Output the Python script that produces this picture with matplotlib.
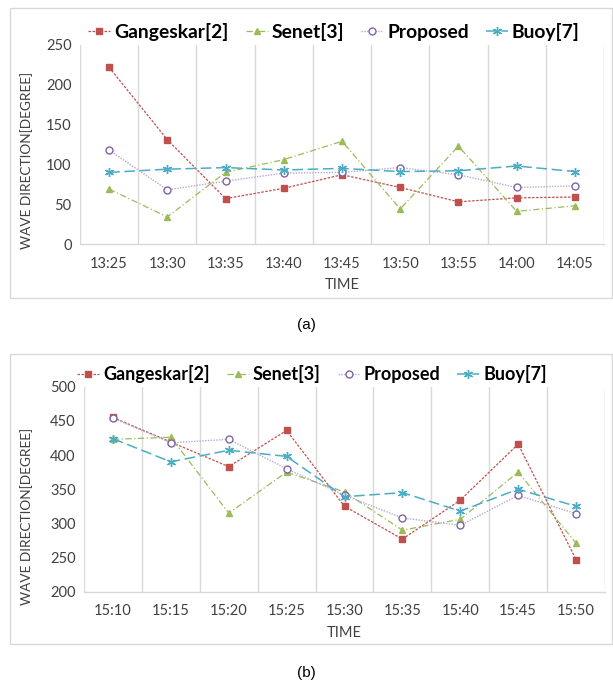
import matplotlib
matplotlib.use("Agg")
import matplotlib.pyplot as plt
from matplotlib.patches import Rectangle

plt.rcParams['font.family'] = ['Lato', 'DejaVu Sans']

# ---- data ----
times_a = ["13:25", "13:30", "13:35", "13:40", "13:45", "13:50", "13:55", "14:00", "14:05"]
gangeskar_a = [222, 131, 57, 70, 87, 71, 53, 58, 59]
senet_a = [69, 34, 90, 106, 129, 44, 123, 41, 48]
proposed_a = [118, 68, 79, 89, 90, 96, 87, 71, 73]
buoy_a = [90, 94, 96, 93, 95, 91, 92, 98, 91]

times_b = ["15:10", "15:15", "15:20", "15:25", "15:30", "15:35", "15:40", "15:45", "15:50"]
gangeskar_b = [455, 419, 383, 436, 325, 277, 334, 416, 247]
senet_b = [423, 426, 315, 375, 346, 290, 306, 375, 271]
proposed_b = [454, 418, 423, 380, 341, 308, 297, 341, 314]
buoy_b = [424, 390, 407, 398, 339, 345, 318, 350, 325]

series_names = ["Gangeskar[2]", "Senet[3]", "Proposed", "Buoy[7]"]

W, H = 613, 686
fig = plt.figure(figsize=(W / 100, H / 100), dpi=100)
renderer = fig.canvas.get_renderer()

def fx(x):
    return x / W

def fy(y):
    return 1 - y / H

def fit_size(text, target_px, weight='normal', base=10.0):
    t = fig.text(0, 0, text, fontsize=base, weight=weight)
    w = t.get_window_extent(renderer).width
    t.remove()
    return base * target_px / w

tick_fs = 10.5
ylab_fs = fit_size("WAVE DIRECTION[DEGREE]", 176)
leg_fs_a = fit_size("Gangeskar[2]", 114, weight='bold')
leg_fs_b = fit_size("Gangeskar[2]", 107, weight='bold')

# outer frames
for (x0, y0, x1, y1) in [(10, 8, 612, 298), (10, 354, 612, 644)]:
    fig.patches.append(Rectangle((fx(x0), fy(y1)), fx(x1 - x0), (y1 - y0) / H,
                                 transform=fig.transFigure, fill=False,
                                 edgecolor='#D9D9D9', linewidth=1.0))

styles = [
    dict(color='#C0504D', linestyle=(0, (2, 1.2)), marker='s', markersize=4.5,
         markerfacecolor='#C0504D', markeredgecolor='#C0504D', linewidth=0.9),
    dict(color='#9BBB59', linestyle=(0, (5, 2, 1, 2)), marker='^', markersize=5,
         markerfacecolor='#9BBB59', markeredgecolor='#9BBB59', linewidth=0.9),
    dict(color='#B8A9D0', linestyle=(0, (1, 1)), marker='o', markersize=5,
         markerfacecolor='white', markeredgecolor='#8064A2', markeredgewidth=1.0, linewidth=1.0),
    dict(color='#4BACC6', linestyle=(0, (7, 3)), marker=(6, 2, 0), markersize=6.5,
         markerfacecolor='#4BACC6', markeredgecolor='#4BACC6', markeredgewidth=1.0, linewidth=1.1),
]

def make_panel(rect, times, data, ylim, yticks, ylabel_y, legend_xy, legend_fs, label, label_y, time_y):
    ax = fig.add_axes(rect)
    x = list(range(len(times)))
    handles = []
    for d, st, name in zip(data, styles, series_names):
        h, = ax.plot(x, d, label=name, **st)
        handles.append(h)
    ax.set_xlim(-0.5, len(times) - 0.5)
    ax.set_ylim(*ylim)
    ax.set_yticks(yticks)
    ax.set_xticks(x)
    ax.set_xticklabels(times, fontsize=tick_fs, color='#404040')
    ax.tick_params(axis='y', labelsize=tick_fs, labelcolor='#404040', length=0, pad=6)
    ax.tick_params(axis='x', length=0, pad=9)
    ax.set_xticks([i + 0.5 for i in range(-1, len(times))], minor=True)
    ax.grid(True, which='minor', axis='x', color='#D9D9D9', linewidth=1.0)
    ax.tick_params(axis='x', which='minor', length=0)
    for s in ['top', 'right', 'left']:
        ax.spines[s].set_visible(False)
    ax.spines['bottom'].set_color('#D9D9D9')
    ax.spines['bottom'].set_linewidth(1.0)
    ax.set_axisbelow(True)
    fig.text(fx(27), fy(ylabel_y), "WAVE DIRECTION[DEGREE]", rotation=90,
             ha='center', va='center', fontsize=ylab_fs, color='#404040')
    fig.text((rect[0] + rect[0] + rect[2]) / 2, fy(time_y), "TIME", ha='center', va='center',
             fontsize=tick_fs, color='#404040')
    fpx = legend_fs * 100 / 72
    fig.legend(handles=handles, loc='center', bbox_to_anchor=(fx(legend_xy[0]), fy(legend_xy[1])),
               ncol=4, frameon=False, handlelength=22 / fpx, handletextpad=4 / fpx,
               columnspacing=17 / fpx, borderpad=0, borderaxespad=0,
               prop={'weight': 'bold', 'size': legend_fs})
    fig.text(fx(306), fy(label_y), label, ha='center', va='center', fontsize=11, color='black',
             family=['Liberation Sans', 'DejaVu Sans'])
    return ax

rect_a = [fx(80), fy(244), fx(604 - 80), (244 - 45) / H]
rect_b = [fx(84), fy(591.7), fx(605 - 84), (591.7 - 386.7) / H]

make_panel(rect_a, times_a, [gangeskar_a, senet_a, proposed_a, buoy_a],
           (0, 250), [0, 50, 100, 150, 200, 250], 160, (334, 32), leg_fs_a, "(a)", 325, 285)
make_panel(rect_b, times_b, [gangeskar_b, senet_b, proposed_b, buoy_b],
           (200, 500), [200, 250, 300, 350, 400, 450, 500], 516, (312, 374), leg_fs_b, "(b)", 673, 633)

fig.savefig("out.png", dpi=100)
